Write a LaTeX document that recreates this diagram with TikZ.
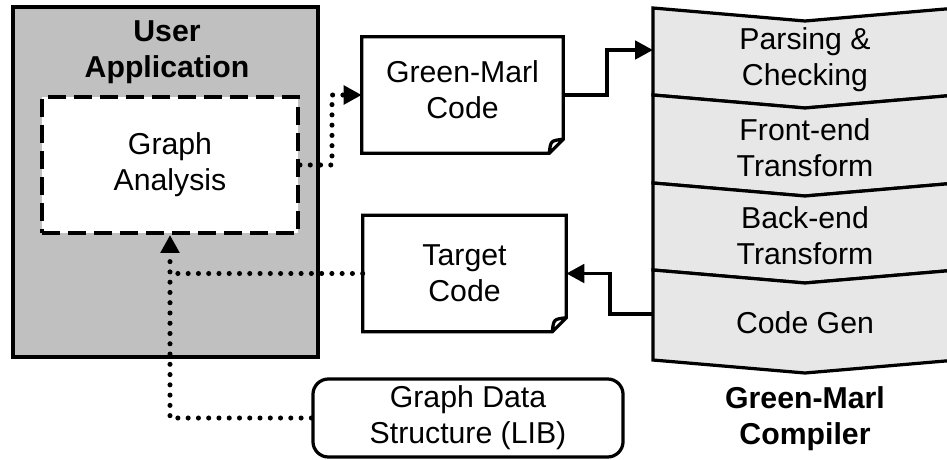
\documentclass[tikz,border=0pt]{standalone}
\usepackage{fontspec}
\setmainfont{Liberation Sans}
\usetikzlibrary{calc,arrows.meta,positioning}
\definecolor{mygray}{RGB}{192,192,192}
\definecolor{mylightgray}{RGB}{231,231,231}
\definecolor{mywhite}{RGB}{255,255,255}

\begin{document}
\begin{tikzpicture}[
  x=0.025cm,
  y=-0.025cm,
  every node/.style={
    font=\fontsize{21.5}{25.5}\selectfont,
    align=center
    },
  mytitle/.style={
    font=\fontsize{21.5}{25.5}\selectfont\bfseries
    },
  myframe/.style={
    draw,
    line width=2.8pt,
    fill=mygray,
    minimum width=7.625cm,
    minimum height=8.75cm
    },
  mydashed/.style={
    draw,
    line width=2.8pt,
    fill=mywhite,
    dash pattern=on 12.8pt off 5.7pt,
    minimum width=6.4cm,
    minimum height=3.4cm
    },
  mydoc/.style={
    minimum width=#1,
    minimum height=2.9cm
    },
  mylib/.style={
    draw,
    line width=2.3pt,
    rounded corners=11pt,
    minimum width=7.75cm,
    minimum height=1.95cm
    },
  mystage/.style={
    draw,
    line width=2.3pt,
    fill=mylightgray
    },
  myarrow/.style={
    line width=2.8pt,
    -{Triangle[length=12.8pt,width=13pt]}
    },
  mydots/.style={
    line width=3.6pt,
    line cap=round,
    dash pattern=on 0pt off 7.3pt
    },
  mydotarrow/.style={
    mydots,
    -{Triangle[length=12.8pt,width=13pt]}
  }
]

\useasboundingbox (0,0) rectangle (947,460);

% user application
\node[myframe] (app) at (165.5,182) {};
\node[mytitle] (apptitle) at (167,52) {User\\Application};
\node[mydashed] (analysis) at (170,165) {Graph\\Analysis};

% compiler stages
\foreach \Top/\Bot in {8/95, 95/183, 183/270, 270/360}
  \draw[mystage] (653,\Top) -- (805,{\Top+13}) -- (957,\Top) -- (957,\Bot) -- (805,{\Bot+13}) -- (653,\Bot) -- cycle;

\node (parse) at (805,59.5) {Parsing \&\\Checking};
\node (front) at (805,147.5) {Front-end\\Transform};
\node (back) at (805,235.5) {Back-end\\Transform};
\node (codegen) at (805,323) {Code Gen};
\node[mytitle] (compiler) at (805,418.5) {Green-Marl\\Compiler};
\coordinate (compin) at (653,50);
\coordinate (compout) at (653,314);

% code files
\node[mydoc=5.025cm, text depth=8pt] (gmcode) at (462.5,95) {Green-Marl\\Code};
\node[mydoc=5.075cm] (target) at (464.5,273.5) {Target\\Code};
\foreach \Doc in {gmcode,target}
  \draw[line width=2.3pt]
    (\Doc.north west) -- (\Doc.north east) -- ([yshift=10pt]\Doc.south east)
    -- ([xshift=-10pt]\Doc.south east) -- (\Doc.south west) -- cycle
    ([xshift=-10pt]\Doc.south east) .. controls ([xshift=-9pt,yshift=9pt]\Doc.south east) .. ([yshift=10pt]\Doc.south east);

% library
\node[mylib] (gdslib) at (468,418) {Graph Data\\Structure (LIB)};

% connectors
\draw[mydotarrow] (analysis.east) -- ++(32,0) |- (gmcode.west);
\draw[myarrow] (gmcode.east) -- ++(44,0) |- (compin);
\draw[myarrow] (compout) -- ++(-43,0) |- (target.east);
\draw[mydots] (target.west) -- (analysis.south |- target.west);
\draw[mydotarrow] (gdslib.west) -| (analysis.south);

\end{tikzpicture}
\end{document}
